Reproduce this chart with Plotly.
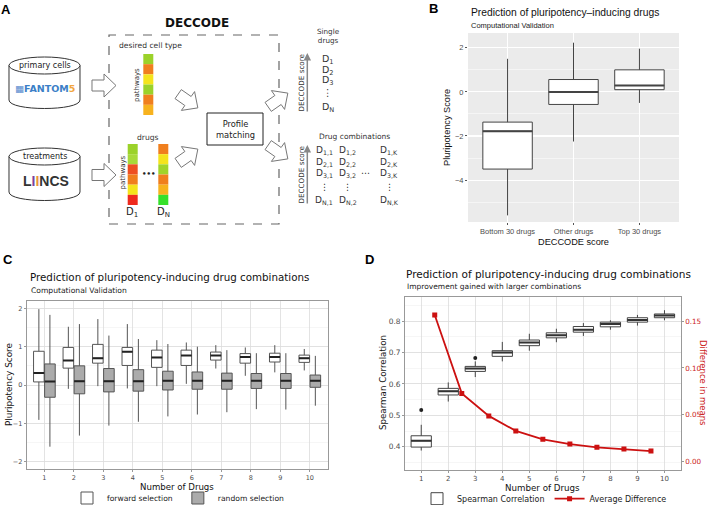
import numpy as np
import plotly.graph_objects as go

W, H = 709, 505

# ---------------- DATA ----------------
# Panel B: Prediction of pluripotency-inducing drugs
b_groups = ["Bottom 30 drugs", "Other drugs", "Top 30 drugs"]
b_low = [-5.6, -2.25, -0.5]
b_q1 = [-3.5, -0.57, 0.10]
b_med = [-1.78, 0.0, 0.29]
b_q3 = [-1.37, 0.56, 1.0]
b_high = [1.5, 2.23, 1.96]

# Panel C: forward vs random selection
c_n = [1, 2, 3, 4, 5, 6, 7, 8, 9, 10]
c_fwd_low = [-0.91, -0.10, -0.03, -0.09, -0.03, 0.03, 0.43, 0.24, 0.33, 0.38]
c_fwd_q1 = [0.08, 0.44, 0.57, 0.51, 0.46, 0.51, 0.65, 0.57, 0.60, 0.59]
c_fwd_med = [0.31, 0.64, 0.70, 0.87, 0.72, 0.77, 0.77, 0.73, 0.73, 0.70]
c_fwd_q3 = [0.88, 0.98, 1.06, 0.98, 0.91, 0.91, 0.86, 0.82, 0.83, 0.78]
c_fwd_high = [1.98, 1.52, 1.72, 1.59, 1.17, 1.11, 1.04, 0.98, 1.04, 0.94]
c_rnd_low = [-1.61, -1.32, -1.06, -0.96, -0.82, -0.77, -0.71, -0.63, -0.64, -0.54]
c_rnd_q1 = [-0.32, -0.23, -0.18, -0.16, -0.13, -0.11, -0.11, -0.09, -0.09, -0.06]
c_rnd_med = [0.09, 0.10, 0.10, 0.10, 0.11, 0.11, 0.11, 0.11, 0.11, 0.11]
c_rnd_q3 = [0.55, 0.50, 0.43, 0.40, 0.36, 0.34, 0.31, 0.30, 0.30, 0.26]
c_rnd_high = [1.83, 1.59, 1.29, 1.20, 1.07, 1.00, 0.91, 0.83, 0.83, 0.76]

# Panel D: Spearman correlation and average difference
d_n = [1, 2, 3, 4, 5, 6, 7, 8, 9, 10]
d_low = [0.388, 0.544, 0.622, 0.672, 0.706, 0.733, 0.753, 0.773, 0.786, 0.803]
d_q1 = [0.399, 0.565, 0.640, 0.688, 0.722, 0.747, 0.765, 0.782, 0.797, 0.811]
d_med = [0.419, 0.577, 0.649, 0.700, 0.732, 0.755, 0.773, 0.791, 0.804, 0.818]
d_q3 = [0.435, 0.586, 0.656, 0.706, 0.740, 0.763, 0.783, 0.797, 0.811, 0.823]
d_high = [0.470, 0.605, 0.672, 0.734, 0.760, 0.776, 0.794, 0.803, 0.820, 0.835]
d_out_x = [1, 3]
d_out_y = [0.517, 0.683]
d_diff_x = [1.5, 2.5, 3.5, 4.5, 5.5, 6.5, 7.5, 8.5, 9.5]
d_diff = [0.1564, 0.0729, 0.0489, 0.0329, 0.0239, 0.0189, 0.0154, 0.0136, 0.0114]

# Panel A: pathway colour columns
desired_colors = ["#9BD22A", "#F07F1E", "#F4E41C", "#9BD22A", "#F07F1E", "#F7B21E"]
d1_colors = ["#9BD22A", "#A8DA3A", "#EE4F22", "#F07F1E", "#F4E41C", "#EE2A1E"]
dn_colors = ["#F07F1E", "#F4E41C", "#A0D42A", "#F07F1E", "#F7B21E", "#35E02A"]


# ---------------- HELPERS ----------------
def px(x):
    return x / W


def py(y):
    return 1 - y / H


def T(text, x, y, size=8, color="#222", xa="center", ya="middle", angle=0, family="DejaVu Sans"):
    return dict(text=text, x=px(x), y=py(y), xref="paper", yref="paper", showarrow=False,
                xanchor=xa, yanchor=ya, textangle=angle,
                font=dict(size=size, color=color, family=family))


def pt(x, y):
    return f"{px(x):.5f},{py(y):.5f}"


def arrow_path(cx, cy, ang, L=24, Hh=23, h=11, hl=12):
    pts = [(-L / 2, -h / 2), (L / 2 - hl, -h / 2), (L / 2 - hl, -Hh / 2), (L / 2, 0),
           (L / 2 - hl, Hh / 2), (L / 2 - hl, h / 2), (-L / 2, h / 2)]
    a = np.radians(ang)
    out = []
    for x, y in pts:
        X = cx + x * np.cos(a) - y * np.sin(a)
        Y = cy + x * np.sin(a) + y * np.cos(a)
        out.append(pt(X, Y))
    return "M " + " L ".join(out) + " Z"


def median_segments(pos, med, hw):
    xs, ys = [], []
    for p, m in zip(pos, med):
        xs += [p - hw, p + hw, None]
        ys += [m, m, None]
    return xs, ys


fig = go.Figure()

# ---------------- PANEL B ----------------
b_pos = [1, 2, 3]
fig.add_trace(go.Box(x=b_pos, q1=b_q1, median=b_med, q3=b_q3, lowerfence=b_low, upperfence=b_high,
                     width=0.75, fillcolor="white", line=dict(color="#444", width=1),
                     whiskerwidth=0, boxpoints=False, showlegend=False, hoverinfo="skip",
                     xaxis="x", yaxis="y"))
mx, my = median_segments(b_pos, b_med, 0.375)
fig.add_trace(go.Scatter(x=mx, y=my, mode="lines", line=dict(color="#444", width=2),
                         showlegend=False, hoverinfo="skip", xaxis="x", yaxis="y"))

# ---------------- PANEL C ----------------
cn = np.array(c_n, dtype=float)
fwd_pos = cn - 0.1875
rnd_pos = cn + 0.1875
fig.add_trace(go.Box(x=fwd_pos, q1=c_fwd_q1, median=c_fwd_med, q3=c_fwd_q3,
                     lowerfence=c_fwd_low, upperfence=c_fwd_high, width=0.36,
                     fillcolor="white", line=dict(color="#555", width=1), whiskerwidth=0,
                     boxpoints=False, name="forward selection", legend="legend",
                     hoverinfo="skip", xaxis="x2", yaxis="y2"))
fig.add_trace(go.Box(x=rnd_pos, q1=c_rnd_q1, median=c_rnd_med, q3=c_rnd_q3,
                     lowerfence=c_rnd_low, upperfence=c_rnd_high, width=0.36,
                     fillcolor="#ABABAB", line=dict(color="#555", width=1), whiskerwidth=0,
                     boxpoints=False, name="random selection", legend="legend",
                     hoverinfo="skip", xaxis="x2", yaxis="y2"))
mx, my = median_segments(list(fwd_pos) + list(rnd_pos), c_fwd_med + c_rnd_med, 0.18)
fig.add_trace(go.Scatter(x=mx, y=my, mode="lines", line=dict(color="#222", width=2),
                         showlegend=False, hoverinfo="skip", xaxis="x2", yaxis="y2"))

# ---------------- PANEL D ----------------
fig.add_trace(go.Box(x=d_n, q1=d_q1, median=d_med, q3=d_q3, lowerfence=d_low, upperfence=d_high,
                     width=0.75, fillcolor="white", line=dict(color="#444", width=1),
                     whiskerwidth=0, boxpoints=False, name="Spearman Correlation",
                     legend="legend2", hoverinfo="skip", xaxis="x3", yaxis="y3"))
mx, my = median_segments(d_n, d_med, 0.375)
fig.add_trace(go.Scatter(x=mx, y=my, mode="lines", line=dict(color="#333", width=2),
                         showlegend=False, hoverinfo="skip", xaxis="x3", yaxis="y3"))
fig.add_trace(go.Scatter(x=d_out_x, y=d_out_y, mode="markers",
                         marker=dict(color="#222", size=4), showlegend=False,
                         hoverinfo="skip", xaxis="x3", yaxis="y3"))
fig.add_trace(go.Scatter(x=d_diff_x, y=d_diff, mode="lines+markers", name="Average Difference",
                         line=dict(color="#CC1111", width=1.8),
                         marker=dict(symbol="square", size=5, color="#CC1111"),
                         legend="legend2", hoverinfo="skip", xaxis="x3", yaxis="y4"))

# ---------------- AXES ----------------
tick_b = dict(size=7.5, color="#4D4D4D", family="Liberation Sans")
tick_c = dict(size=6.5, color="#4D4D4D", family="DejaVu Sans")
tick_d = dict(size=7, color="#4D4D4D", family="DejaVu Sans")

fig.update_layout(
    xaxis=dict(domain=[px(468), px(679)], range=[0.4, 3.6], tickvals=b_pos, ticktext=b_groups,
               showgrid=True, gridcolor="white", gridwidth=1.2, zeroline=False, showline=False,
               ticks="outside", ticklen=2, tickcolor="#555", tickfont=tick_b, anchor="y"),
    yaxis=dict(domain=[py(222), py(33)], range=[-5.9, 2.67], tickvals=[-4, -2, 0, 2],
               showgrid=True, gridcolor="white", gridwidth=1.2, zeroline=False, showline=False,
               ticks="outside", ticklen=2, tickcolor="#555", tickfont=tick_b, anchor="x",
               minor=dict(dtick=1, tick0=0, showgrid=True, gridcolor="white", gridwidth=0.5)),
    xaxis2=dict(domain=[px(26.7), px(327.5)], range=[0.4, 10.6], tickvals=c_n,
                showgrid=True, gridcolor="#DCDCDC", gridwidth=0.8, zeroline=False,
                showline=True, mirror=True, linecolor="#999", linewidth=1,
                ticks="outside", ticklen=2, tickcolor="#999", tickfont=tick_c, anchor="y2"),
    yaxis2=dict(domain=[py(469.3), py(300.7)], range=[-2.2, 2.2], tickvals=[-2, -1, 0, 1, 2],
                showgrid=True, gridcolor="#DCDCDC", gridwidth=0.8, zeroline=False,
                showline=True, mirror=True, linecolor="#999", linewidth=1,
                ticks="outside", ticklen=2, tickcolor="#999", tickfont=tick_c, anchor="x2",
                minor=dict(dtick=0.5, tick0=0, showgrid=True, gridcolor="#EDEDED", gridwidth=0.5)),
    xaxis3=dict(domain=[px(405), px(680.7)], range=[0.4, 10.6], tickvals=d_n,
                showgrid=True, gridcolor="#DCDCDC", gridwidth=0.8, zeroline=False,
                showline=True, mirror=True, linecolor="#999", linewidth=1,
                ticks="outside", ticklen=2, tickcolor="#999", tickfont=tick_d, anchor="y3"),
    yaxis3=dict(domain=[py(470), py(296.7)], range=[0.326, 0.878],
                tickvals=[0.4, 0.5, 0.6, 0.7, 0.8], tickformat=".1f",
                showgrid=True, gridcolor="#DCDCDC", gridwidth=0.8, zeroline=False,
                showline=True, mirror=True, linecolor="#999", linewidth=1,
                ticks="outside", ticklen=2, tickcolor="#999",
                tickfont=dict(size=7.4, color="#4D4D4D", family="DejaVu Sans"), anchor="x3",
                minor=dict(dtick=0.05, tick0=0, showgrid=True, gridcolor="#EDEDED", gridwidth=0.5)),
    yaxis4=dict(overlaying="y3", side="right", anchor="x3", range=[-0.0088, 0.176],
                tickvals=[0, 0.05, 0.10, 0.15], tickformat=".2f", showgrid=False,
                zeroline=False, showline=False, ticks="outside", ticklen=2, tickcolor="#999",
                tickfont=dict(size=7.2, color="#CC2222", family="DejaVu Sans")),
)

# ---------------- LEGENDS ----------------
fig.update_layout(
    legend=dict(orientation="h", x=px(67), y=py(498), xanchor="left", yanchor="middle",
                font=dict(family="DejaVu Sans", size=7.6, color="#222"),
                bgcolor="rgba(0,0,0,0)", itemwidth=30, traceorder="normal"),
    legend2=dict(orientation="h", x=px(417), y=py(498.7), xanchor="left", yanchor="middle",
                 font=dict(family="DejaVu Sans", size=8, color="#222"),
                 bgcolor="rgba(0,0,0,0)", itemwidth=30, traceorder="normal"),
)

# ---------------- SHAPES ----------------
shapes = []
shapes.append(dict(type="rect", xref="x domain", yref="y domain", x0=0, x1=1, y0=0, y1=1,
                   fillcolor="#EBEBEB", line=dict(width=0), layer="below"))


def cylinder(x0, x1, ytop, ybot, ry):
    k = ry * 4 / 3
    body = (f"M {pt(x0, ytop)} L {pt(x0, ybot)} C {pt(x0, ybot + k)} {pt(x1, ybot + k)} "
            f"{pt(x1, ybot)} L {pt(x1, ytop)} Z")
    return [dict(type="path", xref="paper", yref="paper", path=body, fillcolor="white",
                 line=dict(color="#333", width=1)),
            dict(type="circle", xref="paper", yref="paper", x0=px(x0), x1=px(x1),
                 y0=py(ytop + ry), y1=py(ytop - ry), fillcolor="white",
                 line=dict(color="#333", width=1))]

shapes += cylinder(9, 80, 65.5, 100, 8.5)
shapes += cylinder(9, 80, 156.5, 192, 8.5)
shapes.append(dict(type="rect", xref="paper", yref="paper", x0=px(109), x1=px(279),
                   y0=py(224), y1=py(35), line=dict(color="#666", width=1.2, dash="dash")))
shapes.append(dict(type="rect", xref="paper", yref="paper", x0=px(207), x1=px(263),
                   y0=py(145), y1=py(113), line=dict(color="#222", width=1), fillcolor="white"))


def column(x0, x1, y0, y1, colors):
    n = len(colors)
    hcell = (y1 - y0) / n
    out = []
    for i, c in enumerate(colors):
        out.append(dict(type="rect", xref="paper", yref="paper", x0=px(x0), x1=px(x1),
                        y0=py(y0 + (i + 1) * hcell), y1=py(y0 + i * hcell),
                        fillcolor=c, line=dict(width=0)))
    return out

shapes += column(143.3, 153.3, 54, 115, desired_colors)
shapes += column(127.7, 137.7, 144, 205, d1_colors)
shapes += column(158.3, 168.3, 144, 205, dn_colors)
for cx, cy, ang in [(104, 85.5, 0), (104, 175, 0), (188, 101, 35), (188, 156, -35),
                    (278, 100, -35), (278, 152, 35)]:
    shapes.append(dict(type="path", xref="paper", yref="paper", path=arrow_path(cx, cy, ang),
                       fillcolor="white", line=dict(color="#777", width=1)))
fig.update_layout(shapes=shapes)

# ---------------- ANNOTATIONS ----------------
ann = []
lab = "Liberation Sans"
ann.append(T("<b>A</b>", 6, 9, 13, "#000", family=lab))
ann.append(T("<b>B</b>", 433, 8, 13, "#000", family=lab))
ann.append(T("<b>C</b>", 8, 259, 13, "#000", family=lab))
ann.append(T("<b>D</b>", 369, 259, 13, "#000", family=lab))
ann.append(T("<b>DECCODE</b>", 197, 23, 12, "#111"))
ann.append(T("desired cell type", 117, 46, 7.6, "#333", xa="left"))
ann.append(T("pathways", 137, 85, 7, "#333", angle=-90))
ann.append(T("drugs", 148, 137, 7.6, "#333"))
ann.append(T("pathways", 122.5, 173, 7, "#333", angle=-90))
ann.append(T("<b>•••</b>", 148, 174, 7, "#222"))
ann.append(T("D<sub>1</sub>", 132, 213, 10, "#222"))
ann.append(T("D<sub>N</sub>", 163, 213, 10, "#222"))
ann.append(T("Profile<br>matching", 235, 129, 8.3, "#222"))
ann.append(T("primary cells", 44.5, 65.5, 8, "#222"))
ann.append(T('<span style="color:#5B8FD0">▦</span><b><span style="color:#3C7FC7">FANTOM</span>'
             '<span style="color:#F2A640">5</span></b>', 44.5, 89, 9.5))
ann.append(T("treatments", 44.5, 156.5, 8, "#222"))
ann.append(T('<b>L<span style="color:#7B3FA0">I</span><span style="color:#E8963A">I</span>NCS</b>',
             45.5, 181, 14, "#333", family="Liberation Sans"))
ann.append(T("Single<br>drugs", 328, 36.5, 7.2, "#333"))
ann.append(T("DECCODE score", 300.5, 83, 7.2, "#333", angle=-90))
ann.append(T("DECCODE score", 300.5, 175, 7.2, "#333", angle=-90))
for lbl, yy in [("D<sub>1</sub>", 59.3), ("D<sub>2</sub>", 70), ("D<sub>3</sub>", 80.7),
                ("⋮", 93), ("D<sub>N</sub>", 107.3)]:
    ann.append(T(lbl, 327.5, yy, 9.5, "#333"))
ann.append(T("Drug combinations", 316.7, 136.7, 7.5, "#333", xa="left"))
rows = [("1", 150.7), ("2", 162.3), ("3", 173.3), (None, 187), ("N", 200)]
cols = [("1", 324), ("2", 347.7), ("K", 389.3)]
for ri, yy in rows:
    for cj, xx in cols:
        if ri is None:
            ann.append(T("⋮", xx, yy, 9, "#333"))
        else:
            ann.append(T(f"D<sub>{ri},{cj}</sub>", xx, yy, 9, "#333"))
ann.append(T("⋯", 365.5, 173.3, 9, "#333"))
for ytip in [53, 145]:
    ann.append(dict(x=px(307.3), y=py(ytip), xref="paper", yref="paper", text="",
                    showarrow=True, ax=0, ay=60, arrowhead=2, arrowsize=1, arrowwidth=1.5,
                    arrowcolor="#888"))
ann.append(T("Prediction of pluripotency–inducing drugs", 469, 12.3, 10.3, "#111", xa="left", family=lab))
ann.append(T("Computational Validation", 469, 25.7, 7.5, "#222", xa="left", family=lab))
ann.append(T("Pluripotency Score", 447, 128, 9.2, "#111", angle=-90, family=lab))
ann.append(T("DECCODE score", 573.5, 241.5, 9.2, "#111", family=lab))
ann.append(T("Prediction of pluripotency-inducing drug combinations", 28.3, 277.3, 10.3, "#111", xa="left"))
ann.append(T("Computational Validation", 29, 290, 7.6, "#222", xa="left"))
ann.append(T("Pluripotency Score", 9, 385, 8.9, "#111", angle=-90))
ann.append(T("Number of Drugs", 177, 486.5, 8.6, "#111"))
ann.append(T("Prediction of pluripotency-inducing drug combinations", 404.3, 274.3, 10.5, "#111", xa="left"))
ann.append(T("Improvement gained with larger combinations", 405, 286, 7.5, "#222", xa="left"))
ann.append(T("Spearman Correlation", 383, 383, 8.7, "#111", angle=-90))
ann.append(T("Number of Drugs", 542.7, 487.5, 8.7, "#111"))
ann.append(T("Difference in means", 703, 383, 8.5, "#CC2222", angle=90))
fig.update_layout(annotations=ann)

# margins stay at zero (no automatic expansion for the legends near the bottom edge)
fig.update_layout(width=W, height=H, autosize=False,
                  margin=dict(l=0, r=0, t=0, b=0, autoexpand=False),
                  paper_bgcolor="white", plot_bgcolor="rgba(0,0,0,0)",
                  boxmode="overlay", font=dict(family="DejaVu Sans"))

fig.write_html("out.html", config={"displayModeBar": False, "staticPlot": True},
               post_script="document.body.style.margin='0px';")
